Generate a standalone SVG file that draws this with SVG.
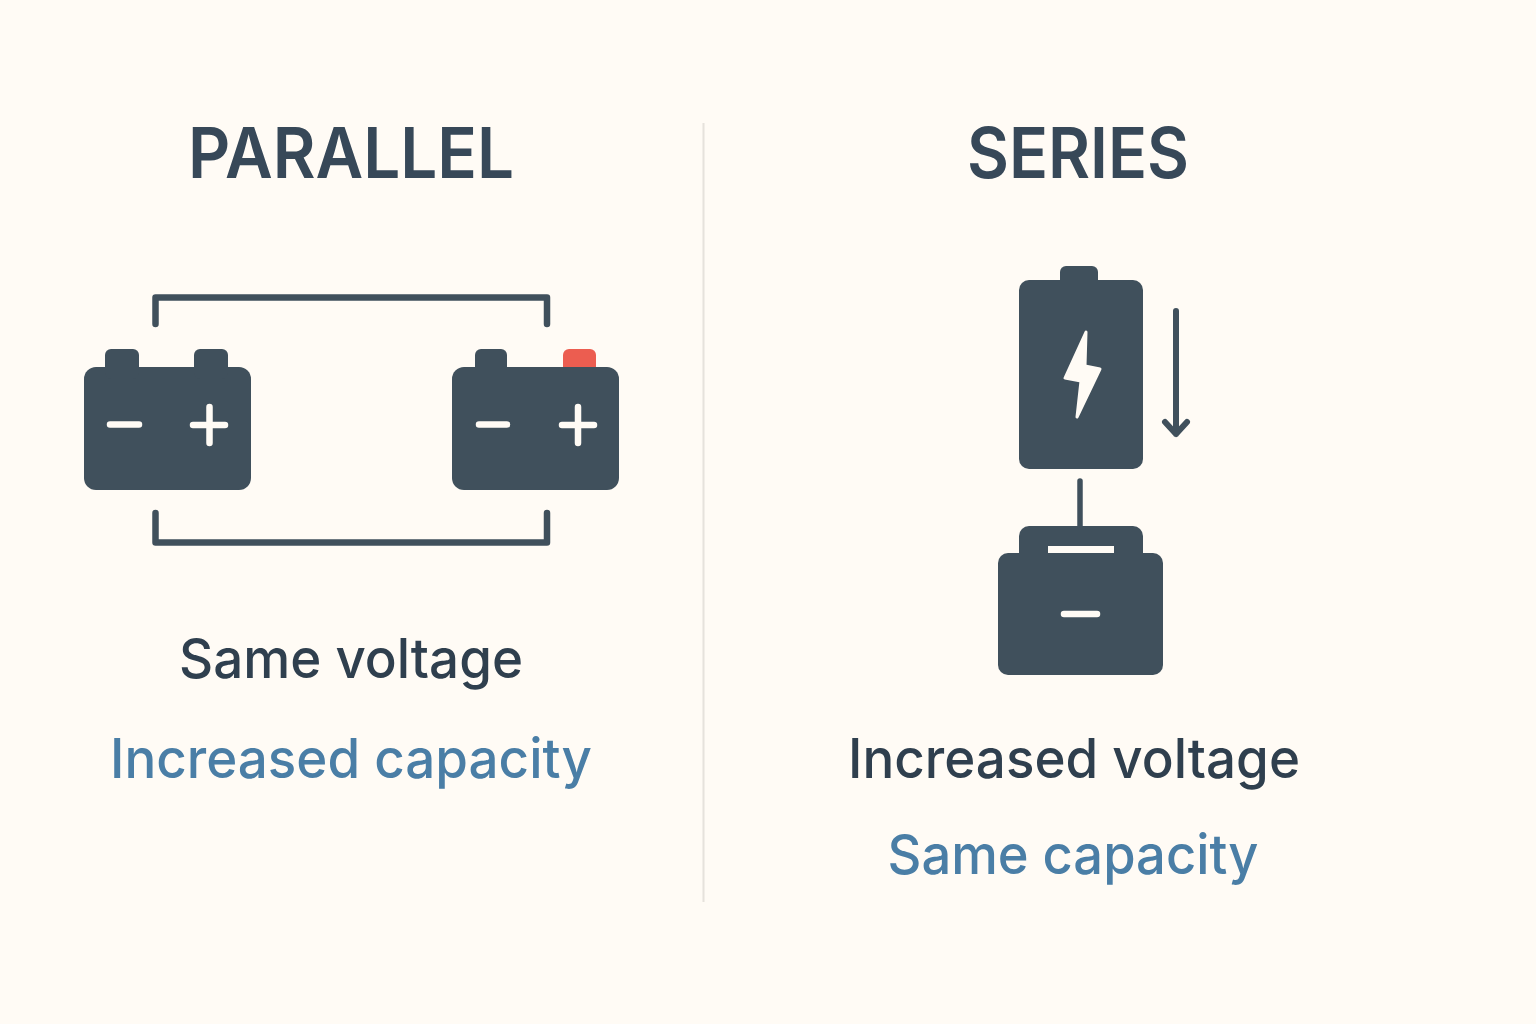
<svg xmlns="http://www.w3.org/2000/svg" width="1536" height="1024" viewBox="0 0 1536 1024">
<style>
.b{fill:#40505c}
.w{stroke:#fffbf5;stroke-width:6.5;stroke-linecap:round;fill:none}
.c{stroke:#40505c;stroke-width:6.5;fill:none;stroke-linecap:round;stroke-linejoin:round}
text{font-family:"Inter","Noto Sans",sans-serif;text-anchor:middle}
.h{font-size:70px;fill:#374858;font-weight:600}
.d{font-size:55px;fill:#2f3f4e;font-weight:500}
.a{font-size:55px;fill:#4a7ea6;font-weight:500}
</style>
<rect width="1536" height="1024" fill="#fffbf5"/>
<line id="divider" x1="703.500" y1="123" x2="703.500" y2="902" stroke="#e6e2dc" stroke-width="2"/>
<text id="title-parallel" class="h" x="351" y="178" textLength="326" lengthAdjust="spacingAndGlyphs">PARALLEL</text>
<text id="title-series" class="h" x="1078" y="178" textLength="222" lengthAdjust="spacingAndGlyphs">SERIES</text>
<g id="connectors">
<path class="c" d="M155.500 324V297.500H547V324"/>
<path class="c" d="M155.500 513V542.500H547V513"/>
<path class="c" d="M1080 481V528" style="stroke-width:5.500"/>
<path class="c" d="M1176 311V434M1165 422L1176 434L1187 422" style="stroke-width:6"/>
</g>
<g id="battery-1">
<rect class="b" x="84" y="367" width="167" height="123" rx="12"/>
<rect class="b" x="105" y="349" width="34" height="30" rx="6"/>
<rect class="b" x="194" y="349" width="34" height="30" rx="6"/>
<path class="w" d="M110 424.500H139M193 425H225M209.500 407V443"/>
</g>
<g id="battery-2">
<rect x="563" y="349" width="33" height="30" rx="6" fill="#ec5d50"/>
<rect class="b" x="475" y="349" width="32" height="30" rx="6"/>
<rect class="b" x="452" y="367" width="167" height="123" rx="12"/>
<path class="w" d="M479 424.500H507M562 425H594M578 407V443"/>
</g>
<g id="battery-3">
<rect class="b" x="1060" y="266" width="38" height="30" rx="6"/>
<rect class="b" x="1019" y="280" width="124" height="189" rx="10"/>
<path d="M1086 332L1065 378L1081 381L1077 417L1100 369L1085 366Z" fill="#fffbf5" stroke="#fffbf5" stroke-width="3" stroke-linejoin="round"/>
</g>
<g id="battery-4">
<rect class="b" x="1019" y="526" width="124" height="60" rx="10"/>
<rect class="b" x="998" y="553" width="165" height="122" rx="10"/>
<rect x="1048" y="546" width="66" height="7" fill="#fffbf5"/>
<path class="w" d="M1064 614H1097"/>
</g>
<text id="label-1" class="d" x="351" y="678" textLength="344" lengthAdjust="spacingAndGlyphs">Same voltage</text>
<text id="label-2" class="a" x="351" y="778" textLength="482" lengthAdjust="spacingAndGlyphs">Increased capacity</text>
<text id="label-3" class="d" x="1074" y="778" textLength="452" lengthAdjust="spacingAndGlyphs">Increased voltage</text>
<text id="label-4" class="a" x="1073" y="874" textLength="371" lengthAdjust="spacingAndGlyphs">Same capacity</text>
</svg>
